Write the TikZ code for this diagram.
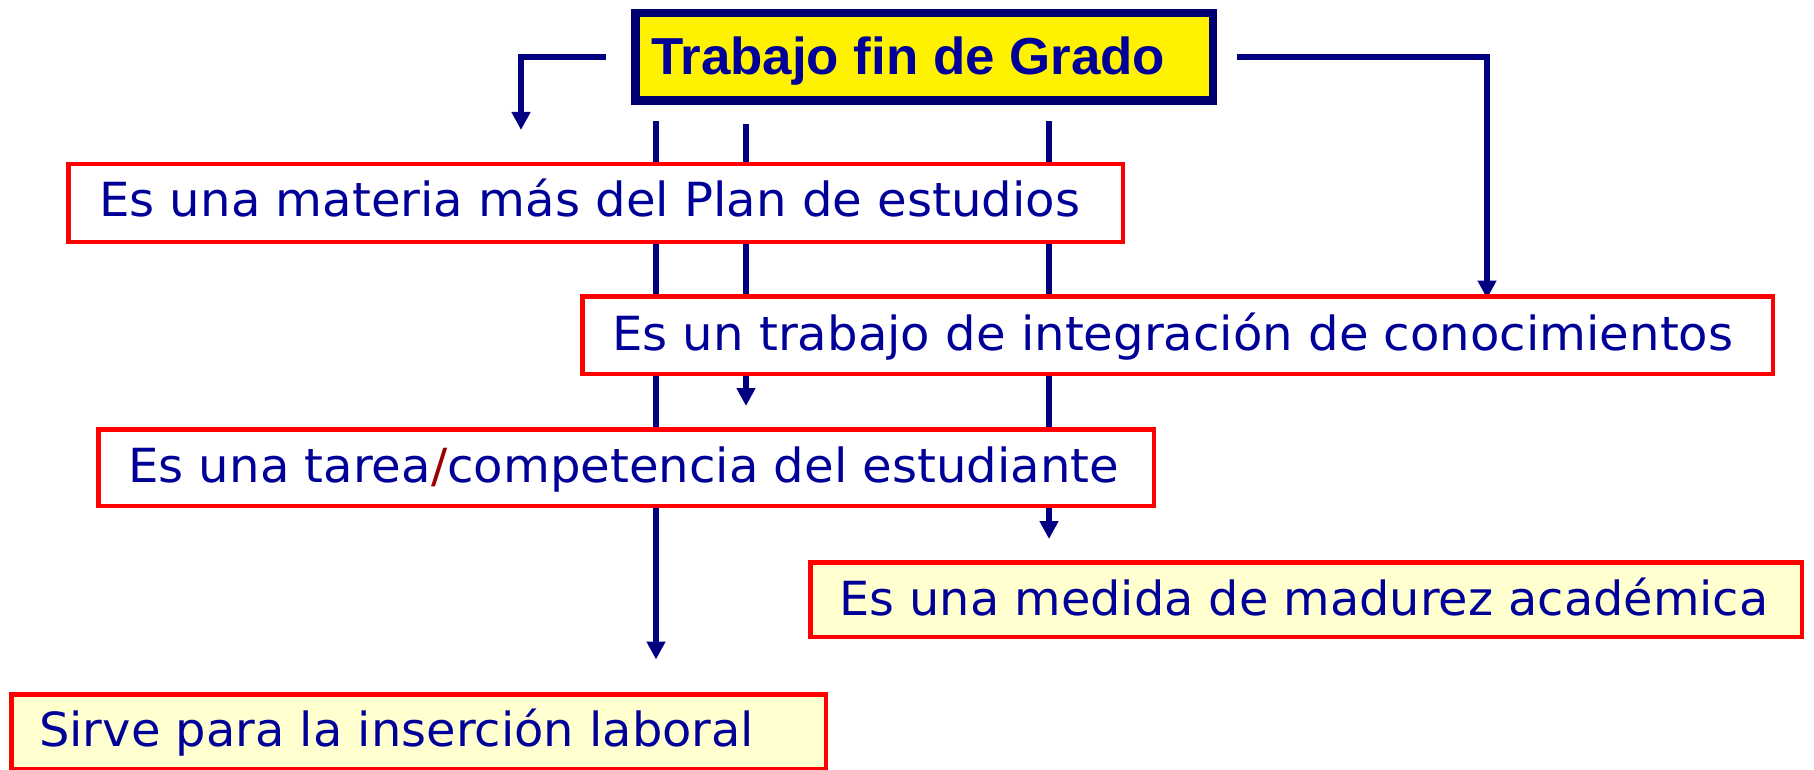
\documentclass[tikz,border=0pt]{standalone}
\usepackage{fontspec}
\usepackage{graphicx}
\setmainfont{DejaVu Sans}
\newfontfamily\titlefont{Liberation Sans}
\usetikzlibrary{arrows.meta}
\definecolor{navyline}{RGB}{0,0,128}
\definecolor{navytext}{RGB}{0,0,153}
\definecolor{titleborder}{RGB}{0,0,110}
\definecolor{boxred}{RGB}{255,0,0}
\definecolor{cream}{RGB}{255,255,208}
\definecolor{slashred}{RGB}{153,0,0}
\newcommand{\fitw}[2]{\resizebox{#1}{\height}{#2}}
\pgfdeclarelayer{bg}
\pgfsetlayers{bg,main}
\begin{document}
\begin{tikzpicture}[x=1pt,y=-1pt,
  conn/.style={draw=navyline,line width=6.2pt,-{Triangle[width=18pt,length=18pt]}},
  titlebox/.style={draw=titleborder,line width=8.5pt,fill=yellow,inner sep=0pt},
  redbox/.style={draw=boxred,line width=4.5pt,fill=white,inner sep=0pt},
  creambox/.style={redbox,fill=cream},
  boxtext/.style={anchor=base west,inner sep=0pt,text=navytext,font=\fontsize{47}{56}\selectfont},
  titletext/.style={anchor=base west,inner sep=0pt,text=navytext,font=\titlefont\bfseries\fontsize{52}{62}\selectfont}
]
\useasboundingbox (0,0) rectangle (1814,770);
% title
\node[titlebox,minimum width=577.5pt,minimum height=87.5pt] (title) at (924,57) {};
\node[titletext] (ttitle) at (651,74.5) {\fitw{514pt}{Trabajo fin de Grado}};
% boxes
\node[redbox,minimum width=1054.5pt,minimum height=77.5pt] (b1) at (595.5,203) {};
\node[boxtext] (t1) at (99,217) {\fitw{981pt}{Es una materia más del Plan de estudios}};
\node[redbox,minimum width=1190.5pt,minimum height=77.5pt] (b2) at (1177.5,335) {};
\node[boxtext] (t2) at (612,350.7) {\fitw{1121pt}{Es un trabajo de integración de conocimientos}};
\node[redbox,minimum width=1055.5pt,minimum height=76.5pt] (b3) at (626,467.5) {};
\node[boxtext] (t3) at (128,482.5) {\fitw{991pt}{Es una tarea\textcolor{slashred}{/}competencia del estudiante}};
\node[creambox,minimum width=991.5pt,minimum height=74.5pt] (b4) at (1306,599.5) {};
\node[boxtext] (t4) at (839,615) {\fitw{929pt}{Es una medida de madurez académica}};
\node[creambox,minimum width=814.5pt,minimum height=75.25pt] (b5) at (418.5,731.9) {};
\node[boxtext] (t5) at (39,746.5) {\fitw{715pt}{Sirve para la inserción laboral}};
% arrow end points
\coordinate (e1) at (521,130);
\coordinate (e2) at (1487,298.5);
\coordinate (e3) at (746,406);
\coordinate (e4) at (1049,539);
\coordinate (e5) at (656,659.5);
\begin{pgfonlayer}{bg}
\draw[conn] ([xshift=-25.5pt]title.west) -| (e1);
\draw[conn] ([xshift=19.5pt]title.east) -| (e2);
\draw[conn,shorten <=19.5pt] (title.south -| e3) -- (e3);
\draw[conn,shorten <=16.5pt] (title.south -| e4) -- (e4);
\draw[conn,shorten <=16.5pt] (title.south -| e5) -- (e5);
\end{pgfonlayer}
\end{tikzpicture}
\end{document}
